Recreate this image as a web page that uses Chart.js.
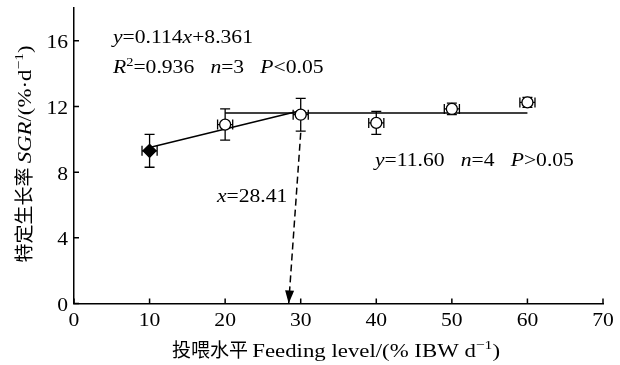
<!DOCTYPE html>
<html>
<head>
<meta charset="utf-8">
<script src="https://cdn.jsdelivr.net/npm/chart.js@4.4.0/dist/chart.umd.min.js"></script>
<style>
html, body { margin: 0; padding: 0; background: #fff; }
#wrap { width: 620px; height: 365px; }
</style>
</head>
<body>
<div id="wrap"><canvas id="chart"></canvas></div>
<script>
// data
const levels = [10, 20, 30, 40, 50, 60];
const sgr = [9.3, 10.9, 11.5, 11.0, 11.85, 12.25];
const sgrErr = [1.0, 0.95, 1.0, 0.7, 0.35, 0.3];
const levelErr = [1, 1, 1, 1, 1, 1];

// fitted lines (end points)
const regX = [10, 29.5];
const regY = [9.5, 11.7];
const plateauX = [20, 60];
const plateauY = [11.6, 11.6];
const breakX = [30, 28.41];
const breakY = [10.4, 0];

const xTicks = [0, 10, 20, 30, 40, 50, 60, 70];
const yTicks = [0, 4, 8, 12, 16];

const SERIF = '"Liberation Serif", "DejaVu Serif", serif';
const CJK = '"Noto Sans CJK SC", sans-serif';
const STRETCH = 1.2; // the figure's serif face is wider than Times

function toPts(xs, ys) {
	return xs.map((x, i) => ({ x, y: ys[i] }));
}

// draw a run of text pieces, each with its own style
function drawRich(ctx, parts, x, y, opts = {}) {
	const size = opts.size || 18;
	const cjkSize = opts.cjk || 19;
	const fontOf = (p) => {
		if (p.cjk) return `${cjkSize}px ${CJK}`;
		if (p.sup) return `${Math.round(size * 0.68)}px ${SERIF}`;
		return `${p.it ? 'italic ' : ''}${size}px ${SERIF}`;
	};
	const sxOf = (p) => (p.cjk ? 1 : STRETCH);
	let total = 0;
	parts.forEach((p) => {
		ctx.font = fontOf(p);
		total += ctx.measureText(p.t).width * sxOf(p);
	});
	let cx = x;
	if (opts.align === 'center') cx = x - total / 2;
	if (opts.align === 'right') cx = x - total;
	ctx.textAlign = 'left';
	ctx.textBaseline = 'alphabetic';
	parts.forEach((p) => {
		ctx.font = fontOf(p);
		const sx = sxOf(p);
		ctx.save();
		ctx.translate(cx, p.sup ? y - size * 0.4 : y);
		ctx.scale(sx, 1);
		ctx.fillText(p.t, 0, 0);
		ctx.restore();
		cx += ctx.measureText(p.t).width * sx;
	});
}

const extras = {
	id: 'extras',
	beforeDatasetsDraw(chart) {
		const { ctx, scales } = chart;
		const xs = scales.x, ys = scales.y;
		ctx.save();
		ctx.strokeStyle = '#000';
		ctx.lineWidth = 1.3;
		levels.forEach((lv, i) => {
			const px = xs.getPixelForValue(lv);
			const py = ys.getPixelForValue(sgr[i]);
			const top = ys.getPixelForValue(sgr[i] + sgrErr[i]);
			const bot = ys.getPixelForValue(sgr[i] - sgrErr[i]);
			const l = xs.getPixelForValue(lv - levelErr[i]);
			const r = xs.getPixelForValue(lv + levelErr[i]);
			ctx.beginPath();
			ctx.moveTo(px, top); ctx.lineTo(px, bot);
			ctx.moveTo(px - 5, top); ctx.lineTo(px + 5, top);
			ctx.moveTo(px - 5, bot); ctx.lineTo(px + 5, bot);
			ctx.moveTo(l, py); ctx.lineTo(r, py);
			ctx.moveTo(l, py - 5); ctx.lineTo(l, py + 5);
			ctx.moveTo(r, py - 5); ctx.lineTo(r, py + 5);
			ctx.stroke();
		});
		ctx.restore();
	},
	afterDraw(chart) {
		const { ctx, scales } = chart;
		const xs = scales.x, ys = scales.y;
		ctx.save();
		ctx.strokeStyle = '#000';
		ctx.fillStyle = '#000';
		ctx.lineWidth = 1.5;

		// inward tick marks + labels
		ctx.beginPath();
		xTicks.forEach((v) => {
			const px = xs.getPixelForValue(v);
			ctx.moveTo(px, ys.bottom); ctx.lineTo(px, ys.bottom - 5);
		});
		yTicks.forEach((v) => {
			const py = ys.getPixelForValue(v);
			ctx.moveTo(xs.left, py); ctx.lineTo(xs.left + 5, py);
		});
		ctx.stroke();
		xTicks.forEach((v) => {
			drawRich(ctx, [{ t: String(v) }], xs.getPixelForValue(v), ys.bottom + 22, { align: 'center' });
		});
		yTicks.forEach((v) => {
			drawRich(ctx, [{ t: String(v) }], xs.left - 6, ys.getPixelForValue(v) + 7.5, { align: 'right' });
		});

		// arrow head at the break point
		const tx = xs.getPixelForValue(breakX[1]);
		const ty = ys.getPixelForValue(breakY[1]);
		const fx = xs.getPixelForValue(breakX[0]);
		const fy = ys.getPixelForValue(breakY[0]);
		const ang = Math.atan2(ty - fy, tx - fx);
		ctx.beginPath();
		ctx.moveTo(tx, ty);
		ctx.lineTo(tx - 13 * Math.cos(ang) + 4.5 * Math.sin(ang), ty - 13 * Math.sin(ang) - 4.5 * Math.cos(ang));
		ctx.lineTo(tx - 13 * Math.cos(ang) - 4.5 * Math.sin(ang), ty - 13 * Math.sin(ang) + 4.5 * Math.cos(ang));
		ctx.closePath();
		ctx.fill();

		// annotations
		drawRich(ctx, [{ t: 'y', it: 1 }, { t: '=0.114' }, { t: 'x', it: 1 }, { t: '+8.361' }], 113, 43);
		drawRich(ctx, [{ t: 'R', it: 1 }, { t: '2', sup: 1 }, { t: '=0.936   ' }, { t: 'n', it: 1 }, { t: '=3   ' }, { t: 'P', it: 1 }, { t: '<0.05' }], 113, 73);
		drawRich(ctx, [{ t: 'y', it: 1 }, { t: '=11.60   ' }, { t: 'n', it: 1 }, { t: '=4   ' }, { t: 'P', it: 1 }, { t: '>0.05' }], 375, 166);
		drawRich(ctx, [{ t: 'x', it: 1 }, { t: '=28.41' }], 217, 202);

		// axis titles
		const titleOpts = { size: 19, cjk: 19, align: 'center' };
		drawRich(ctx, [{ t: '投喂水平 ', cjk: 1 }, { t: 'Feeding level/(% IBW d' }, { t: '−1', sup: 1 }, { t: ')' }], 336, 357, titleOpts);
		ctx.translate(31, 154);
		ctx.rotate(-Math.PI / 2);
		drawRich(ctx, [{ t: '特定生长率 ', cjk: 1 }, { t: 'SGR', it: 1 }, { t: '/(%·d' }, { t: '−1', sup: 1 }, { t: ')' }], 0, 0, titleOpts);
		ctx.restore();
	},
};

const lineStyle = {
	showLine: true,
	pointRadius: 0,
	borderColor: '#000',
	borderWidth: 1.5,
	fill: false,
	order: 1,
};

new Chart(document.getElementById('chart'), {
	type: 'scatter',
	data: {
		datasets: [
			{
				data: toPts(levels, sgr),
				pointStyle: levels.map((_, i) => (i === 0 ? 'rectRot' : 'circle')),
				pointRadius: levels.map((_, i) => (i === 0 ? 6.5 : 5.5)),
				backgroundColor: levels.map((_, i) => (i === 0 ? '#000' : '#fff')),
				borderColor: '#000',
				borderWidth: 1.3,
				order: 0,
			},
			{ ...lineStyle, data: toPts(regX, regY) },
			{ ...lineStyle, data: toPts(plateauX, plateauY) },
			{ ...lineStyle, data: toPts(breakX, breakY), borderDash: [7, 4] },
		],
	},
	options: {
		responsive: true,
		maintainAspectRatio: false,
		animation: false,
		layout: { padding: { left: 0, top: 8, right: 17, bottom: 0 } },
		plugins: { legend: { display: false }, tooltip: { enabled: false } },
		scales: {
			x: {
				type: 'linear',
				min: 0,
				max: 70,
				afterBuildTicks: (axis) => { axis.ticks = xTicks.map((v) => ({ value: v })); },
				afterFit: (s) => { s.height = 61.5; },
				grid: { display: false, drawTicks: false },
				border: { display: true, color: '#000', width: 1.5 },
				ticks: { display: false },
			},
			y: {
				type: 'linear',
				min: 0,
				max: 18,
				afterBuildTicks: (axis) => { axis.ticks = yTicks.map((v) => ({ value: v })); },
				afterFit: (s) => { s.width = 74; },
				grid: { display: false, drawTicks: false },
				border: { display: true, color: '#000', width: 1.5 },
				ticks: { display: false },
			},
		},
	},
	plugins: [extras],
});
</script>
</body>
</html>
